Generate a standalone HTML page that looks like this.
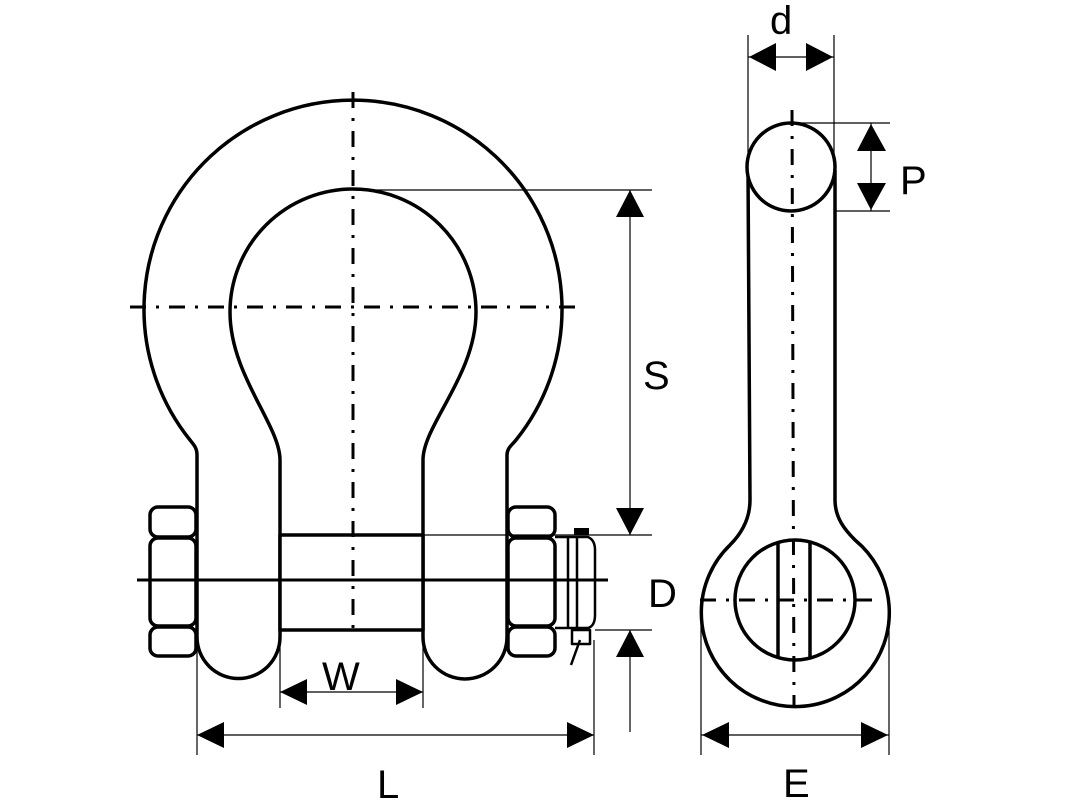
<!DOCTYPE html>
<html><head><meta charset="utf-8"><style>
html,body{margin:0;padding:0;background:#fff;}
svg{display:block;}
text{font-family:"Liberation Sans",sans-serif;fill:#000;}
</style></head><body>
<svg width="1066" height="800" viewBox="0 0 1066 800" xmlns="http://www.w3.org/2000/svg">
<g fill="none" stroke="#000" stroke-width="3.5" stroke-linejoin="round">
<path d="M197,637 L197,455 C197,448 194,445 190,440 A209,209 0 1 1 516,440 C512,445 507,448 507,455 L507,637 A42,42 0 0 1 423,637 L423,460 C423,425 476,375 476,312 A123,123 0 1 0 230,312 C230,375 280,425 280,460 L280,637 A41.5,41.5 0 0 1 197,637 Z" fill="#fff"/>
<rect x="280" y="535" width="143" height="95" fill="#fff"/>
<rect x="150" y="507" width="46" height="30" rx="8" fill="#fff"/>
<rect x="150" y="538" width="46" height="88" rx="8" fill="#fff"/>
<rect x="150" y="627" width="46" height="29" rx="8" fill="#fff"/>
<rect x="508" y="507" width="47" height="30" rx="8" fill="#fff"/>
<rect x="508" y="538" width="47" height="88" rx="8" fill="#fff"/>
<rect x="508" y="627" width="47" height="29" rx="8" fill="#fff"/>
<path d="M555,537 L588,537 Q595,540 595,550 L595,615 Q595,626 588,628 L555,628" stroke-width="2.5"/>
<line x1="568" y1="537" x2="568" y2="628" stroke-width="2.5"/>
<line x1="577" y1="537" x2="577" y2="628" stroke-width="2.5"/>
<rect x="572" y="630" width="18" height="14" stroke-width="2.5"/>
<line x1="580" y1="640" x2="571" y2="665" stroke-width="2.5"/>
</g>
<rect x="574" y="528" width="15" height="7" fill="#000"/>
<line x1="137" y1="580" x2="608" y2="580" stroke="#000" stroke-width="3"/>
<line x1="353" y1="92" x2="353" y2="635" stroke="#000" stroke-width="3" stroke-dasharray="16,10,3,10"/>
<line x1="130" y1="307" x2="575" y2="307" stroke="#000" stroke-width="3" stroke-dasharray="16,10,3,10"/>
<g stroke="#000" stroke-width="1.2">
<line x1="353" y1="190" x2="652" y2="190"/>
<line x1="423" y1="535" x2="652" y2="535"/>
<line x1="595" y1="630" x2="652" y2="630"/>
<line x1="197" y1="650" x2="197" y2="755"/>
<line x1="594" y1="640" x2="594" y2="755"/>
<line x1="280" y1="630" x2="280" y2="708"/>
<line x1="423" y1="630" x2="423" y2="708"/>
<line x1="630" y1="190" x2="630" y2="535"/>
<line x1="630" y1="630" x2="630" y2="732"/>
<line x1="280" y1="692" x2="423" y2="692"/>
<line x1="197" y1="735" x2="594" y2="735"/>
<line x1="748" y1="35" x2="748" y2="170"/>
<line x1="834" y1="35" x2="834" y2="170"/>
<line x1="748" y1="57" x2="834" y2="57"/>
<line x1="791" y1="123" x2="890" y2="123"/>
<line x1="791" y1="211" x2="890" y2="211"/>
<line x1="871" y1="123" x2="871" y2="211"/>
<line x1="701" y1="600" x2="701" y2="755"/>
<line x1="889" y1="600" x2="889" y2="755"/>
<line x1="701" y1="735" x2="889" y2="735"/>
</g>
<g fill="#000">
<polygon points="630,190 616,217 644,217"/>
<polygon points="630,535 616,508 644,508"/>
<polygon points="630,630 616,657 644,657"/>
<polygon points="280,692 307,679 307,705"/>
<polygon points="423,692 396,679 396,705"/>
<polygon points="197,735 224,722 224,748"/>
<polygon points="594,735 567,722 567,748"/>
<polygon points="749,57 776,43 776,71"/>
<polygon points="833,57 806,43 806,71"/>
<polygon points="871,124 857,151 886,151"/>
<polygon points="871,210 857,183 886,183"/>
<polygon points="702,735 729,722 729,748"/>
<polygon points="888,735 861,722 861,748"/>
</g>
<g fill="none" stroke="#000" stroke-width="3.5">
<path d="M748,170 L750,500 C750,520 740,535 730,545 A94,94 0 1 0 855,540 C845,530 835,518 835,500 L835,170" fill="#fff"/>
<circle cx="791" cy="167" r="44" fill="#fff"/>
<circle cx="795" cy="600" r="60"/>
<line x1="778" y1="543" x2="778" y2="657"/>
<line x1="810" y1="542" x2="810" y2="657"/>
</g>
<line x1="792" y1="110" x2="794" y2="705" stroke="#000" stroke-width="3" stroke-dasharray="16,10,3,10"/>
<line x1="700" y1="600" x2="880" y2="600" stroke="#000" stroke-width="3" stroke-dasharray="16,10,3,10"/>
<text x="770" y="34" font-size="40">d</text>
<text x="900" y="194" font-size="40">P</text>
<text x="643" y="389" font-size="40">S</text>
<text x="648" y="607" font-size="40">D</text>
<text x="322" y="690" font-size="40">W</text>
<text x="377" y="798" font-size="40">L</text>
<text x="783" y="797" font-size="40">E</text>
</svg>
</body></html>
